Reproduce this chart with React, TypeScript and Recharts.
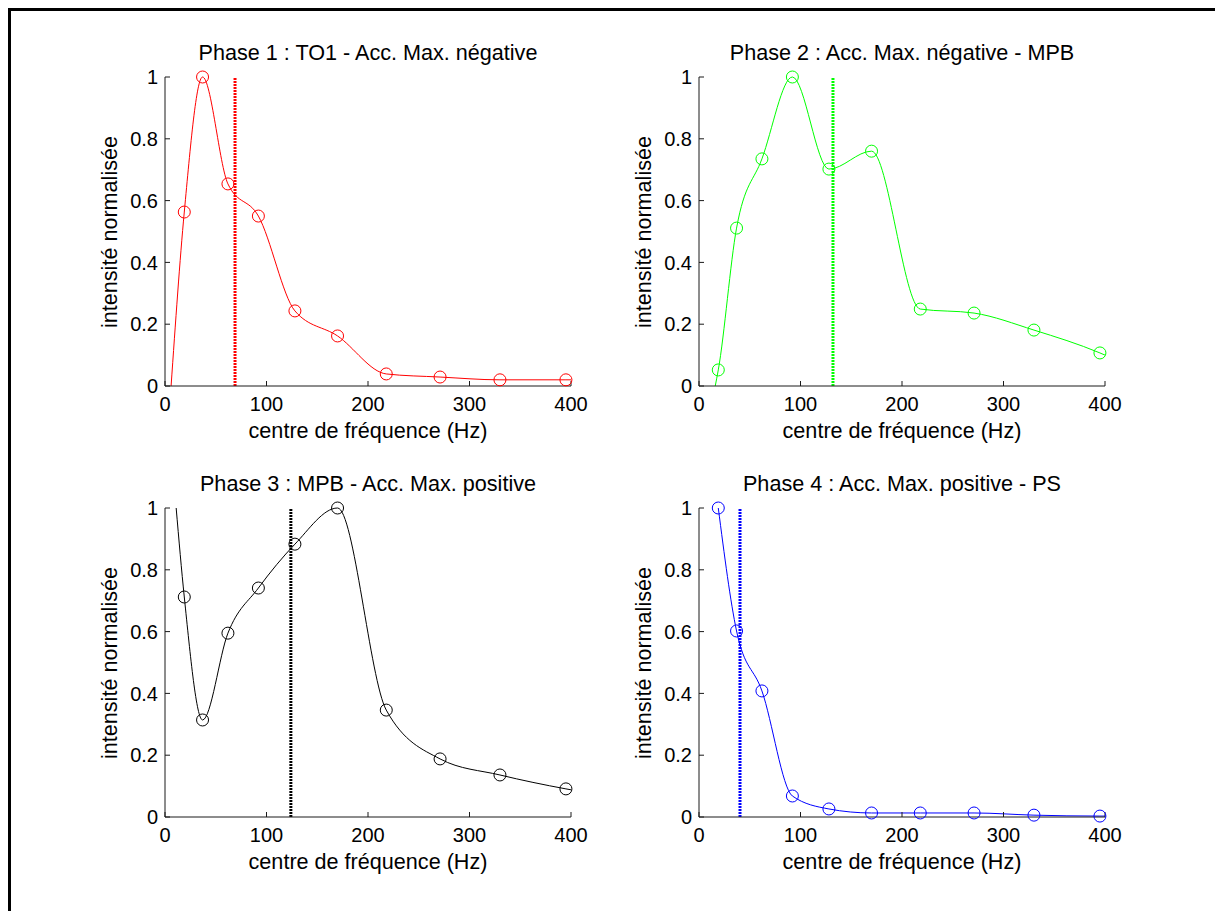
import { LineChart, Line, XAxis, YAxis, ReferenceLine } from 'recharts'

const FONT = '"Liberation Sans", Arial, Helvetica, sans-serif'

// centres de fréquence (Hz) communs aux 4 phases
const freq = [19, 37, 62, 92, 128, 170, 218, 271, 330, 395]
const xTicks = [0, 100, 200, 300, 400]
const yTicks = [0, 0.2, 0.4, 0.6, 0.8, 1]

const phase1 = [0.563, 1.0, 0.654, 0.55, 0.243, 0.162, 0.039, 0.029, 0.02, 0.02]
const phase2 = [0.052, 0.511, 0.735, 1.0, 0.702, 0.76, 0.249, 0.236, 0.181, 0.107]
const phase3 = [0.712, 0.314, 0.595, 0.741, 0.883, 1.0, 0.346, 0.188, 0.136, 0.091]
const phase4 = [1.0, 0.602, 0.408, 0.068, 0.026, 0.013, 0.013, 0.013, 0.006, 0.003]

// bouts de courbe visibles hors des marqueurs (début / fin de la spline)
const start1 = { f: 6, v: 0 }
const start2 = { f: 16, v: 0 }
const start3 = { f: 11, v: 1 }
const end1 = { f: 400, v: 0.02 }
const end2 = { f: 400, v: 0.1 }
const end3 = { f: 400, v: 0.088 }
const end4 = { f: 400, v: 0.003 }

const titles = [
  'Phase 1 : TO1 - Acc. Max. négative',
  'Phase 2 : Acc. Max. négative - MPB',
  'Phase 3 : MPB - Acc. Max. positive',
  'Phase 4 : Acc. Max. positive - PS',
]
const colors = ['#ff0000', '#00ff00', '#000000', '#0000ff']
const markerLines = [69, 132, 124, 40.4]

type Pt = { f: number; v: number; m?: boolean }

function buildRows(values: number[], start?: Pt, end?: Pt): Pt[] {
  const rows: Pt[] = freq.map((f, i) => ({ f, v: values[i], m: true }))
  if (start) rows.unshift({ ...start, m: false })
  if (end) rows.push({ ...end, m: false })
  return rows
}

const panels = [
  { rows: buildRows(phase1, start1, end1), left: 165, top: 77 },
  { rows: buildRows(phase2, start2, end2), left: 699, top: 77 },
  { rows: buildRows(phase3, start3, end3), left: 165, top: 508 },
  { rows: buildRows(phase4, undefined, end4), left: 699, top: 508 },
]

const PW = 406
const PH = 309
const ML = 85
const MT = 47
const MR = 30
const MB = 75

const tickStyle = { fontSize: 20, fill: '#000', fontFamily: FONT }
const axisStroke = { stroke: '#1a1a1a' }
const labelSize = 21.6

function Panel({ idx }: { idx: number }) {
  const p = panels[idx]
  const color = colors[idx]
  const renderDot = (props: any) => {
    const { cx, cy, payload, index } = props
    if (!payload.m) return <g key={`d${index}`} />
    return (
      <circle
        key={`d${index}`}
        cx={cx}
        cy={cy}
        r={6}
        fill="none"
        stroke={color}
        strokeWidth={1}
      />
    )
  }
  return (
    <>
      <div
        style={{
          position: 'absolute',
          left: p.left - ML,
          top: p.top - MT,
        }}
      >
        <LineChart
          width={ML + PW + MR}
          height={MT + PH + MB}
          data={p.rows}
          margin={{ top: MT, right: MR, left: ML - 30, bottom: MB - 30 }}
        >
          <XAxis
            xAxisId="b"
            dataKey="f"
            type="number"
            domain={[0, 400]}
            ticks={xTicks}
            interval={0}
            height={30}
            tickSize={-5}
            tickMargin={16}
            axisLine={axisStroke}
            tickLine={axisStroke}
            tick={tickStyle}
          />
          <XAxis
            xAxisId="t"
            orientation="top"
            dataKey="f"
            type="number"
            domain={[0, 400]}
            ticks={xTicks}
            interval={0}
            height={0}
            tickSize={-5}
            axisLine={axisStroke}
            tickLine={axisStroke}
            tick={false}
          />
          <YAxis
            yAxisId="l"
            type="number"
            domain={[0, 1]}
            ticks={yTicks}
            interval={0}
            width={30}
            tickSize={-5}
            tickMargin={12}
            axisLine={axisStroke}
            tickLine={axisStroke}
            tick={tickStyle}
          />
          <YAxis
            yAxisId="r"
            orientation="right"
            type="number"
            domain={[0, 1]}
            ticks={yTicks}
            interval={0}
            width={0}
            tickSize={-5}
            axisLine={axisStroke}
            tickLine={axisStroke}
            tick={false}
          />
          <ReferenceLine
            xAxisId="b"
            yAxisId="l"
            x={markerLines[idx]}
            stroke={color}
            strokeWidth={3}
            strokeDasharray="2 1"
          />
          <Line
            xAxisId="b"
            yAxisId="l"
            dataKey="v"
            type="monotone"
            stroke={color}
            strokeWidth={1}
            dot={renderDot}
            activeDot={false}
            isAnimationActive={false}
          />
        </LineChart>
      </div>
      <div
        style={{
          position: 'absolute',
          left: p.left,
          width: PW,
          top: p.top - 35,
          textAlign: 'center',
          fontSize: labelSize,
          lineHeight: '22px',
          whiteSpace: 'nowrap',
        }}
      >
        {titles[idx]}
      </div>
      <div
        style={{
          position: 'absolute',
          left: p.left,
          width: PW,
          top: p.top + PH + 34,
          textAlign: 'center',
          fontSize: labelSize,
          lineHeight: '22px',
          whiteSpace: 'nowrap',
        }}
      >
        centre de fréquence (Hz)
      </div>
      <div
        style={{
          position: 'absolute',
          left: p.left - 55,
          top: p.top + PH / 2,
          transform: 'translate(-50%, -50%) rotate(-90deg)',
          fontSize: labelSize,
          lineHeight: '22px',
          whiteSpace: 'nowrap',
        }}
      >
        intensité normalisée
      </div>
    </>
  )
}

export default function App() {
  return (
    <div
      style={{
        position: 'absolute',
        left: 0,
        top: 0,
        width: 1215,
        height: 911,
        background: '#fff',
        overflow: 'hidden',
        fontFamily: FONT,
        color: '#000',
      }}
    >
      <div
        style={{
          position: 'absolute',
          left: 8,
          top: 8,
          width: 1207,
          height: 903,
          borderTop: '3px solid #000',
          borderLeft: '3px solid #000',
          boxSizing: 'border-box',
        }}
      />
      {[0, 1, 2, 3].map((i) => (
        <Panel key={i} idx={i} />
      ))}
    </div>
  )
}
